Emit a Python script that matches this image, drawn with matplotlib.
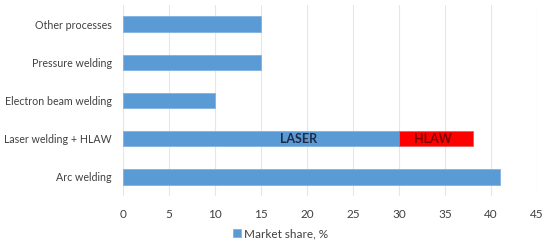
import matplotlib.pyplot as plt
import numpy as np

# Data
categories = ["Arc welding", "Laser welding + HLAW", "Electron beam welding",
              "Pressure welding", "Other processes"]
market_share = [41, 30, 10, 15, 15]
hlaw_share = [0, 8, 0, 0, 0]
xtick_values = [0, 5, 10, 15, 20, 25, 30, 35, 40, 45]

blue = "#5B9BD5"
red = "#FF0000"
grey = "#404040"

plt.rcParams['font.family'] = ['Lato', 'DejaVu Sans']

fig = plt.figure(figsize=(5.5, 2.46), dpi=100)
ax = fig.add_axes([0.2236, 0.203, 0.7527, 0.777])

yticks = np.arange(len(categories))
height = 0.4

ax.barh(yticks, market_share, height=height, color=blue, edgecolor="#7FB2E0",
        linewidth=0.6, zorder=3, label="Market share, %")
# only the row that has an HLAW part
has_hlaw = [i for i, v in enumerate(hlaw_share) if v > 0]
ax.barh(yticks[has_hlaw], [hlaw_share[i] for i in has_hlaw],
        left=[market_share[i] for i in has_hlaw], height=height, color=red,
        edgecolor="#E06060", linewidth=0.6, zorder=3)

ax.text(19.1, 1, "LASER", ha="center", va="center", fontsize=9,
        fontweight="bold", color="#1F2A44", zorder=4)
ax.text(33.7, 1, "HLAW", ha="center", va="center", fontsize=9,
        fontweight="bold", color="#7A0000", zorder=4)

ax.set_xlim(0, 45)
ax.set_ylim(-0.5, len(categories) - 0.5)
ax.set_xticks(xtick_values)
ax.set_yticks(yticks, categories)
ax.xaxis.grid(True, color="#E6E6E6", linewidth=0.8, zorder=0)
ax.tick_params(axis="both", length=0, colors=grey)
ax.tick_params(axis="y", pad=8, labelsize=7.7)
ax.tick_params(axis="x", pad=9, labelsize=8.5)
for s in ax.spines.values():
    s.set_visible(False)

fig.legend(loc="lower center", bbox_to_anchor=(0.51, -0.015), frameon=False,
           fontsize=8.5, labelcolor=grey, handlelength=0.7, handleheight=0.7,
           handletextpad=0.3)

plt.savefig("out.png", dpi=100)
